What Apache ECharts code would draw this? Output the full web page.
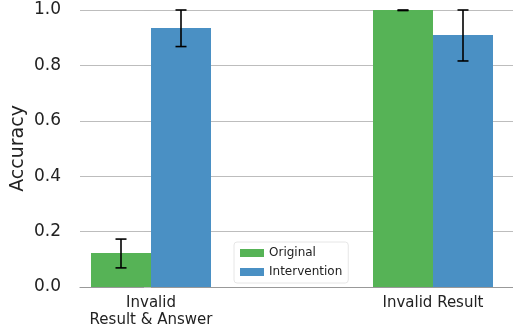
<!DOCTYPE html>
<html><head><meta charset="utf-8">
<script src="https://cdn.jsdelivr.net/npm/echarts@6/dist/echarts.min.js"></script>
<style>html,body{margin:0;padding:0;background:#fff}#c{width:513px;height:334px}</style>
</head><body><div id="c"></div>
<script>
const categories = ['Invalid\nResult & Answer', 'Invalid Result'];
const seriesNames = ['Original', 'Intervention'];
const original = [0.123, 1.0];
const originalLow = [0.069, 0.998];
const originalHigh = [0.173, 1.0];
const intervention = [0.935, 0.91];
const interventionLow = [0.868, 0.816];
const interventionHigh = [1.0, 1.0];
const yTicks = [0, 0.2, 0.4, 0.6, 0.8, 1.0];

const colors = ['#56b356', '#4a90c4'];
const barW = 60;
const font = 'DejaVu Sans';

function errSeries(vals, lo, hi, side) {
  return {
    type: 'custom',
    silent: true,
    z: 10,
    data: vals.map((v, i) => [i, lo[i], hi[i]]),
    renderItem: function (params, api) {
      const x = api.value(0);
      const p1 = api.coord([x, api.value(1)]);
      const p2 = api.coord([x, api.value(2)]);
      const cx = p1[0] + side * barW / 2;
      const cap = 5.5;
      const st = { stroke: '#000', lineWidth: 1.6 };
      return { type: 'group', children: [
        { type: 'line', shape: { x1: cx, y1: p1[1], x2: cx, y2: p2[1] }, style: st },
        { type: 'line', shape: { x1: cx - cap, y1: p1[1], x2: cx + cap, y2: p1[1] }, style: st },
        { type: 'line', shape: { x1: cx - cap, y1: p2[1], x2: cx + cap, y2: p2[1] }, style: st }
      ]};
    }
  };
}

const chart = echarts.init(document.getElementById('c'));
chart.setOption({
  animation: false,
  grid: { left: 80, right: 0, top: 10, bottom: 47, containLabel: false, outerBoundsMode: 'none' },
  legend: {
    data: seriesNames,
    orient: 'vertical',
    left: 234, top: 242,
    icon: 'rect', itemWidth: 24, itemHeight: 8, itemGap: 7,
    textStyle: { fontFamily: font, fontSize: 12, color: '#222' },
    borderColor: '#e6e6e6', borderWidth: 1, borderRadius: 3,
    padding: [5, 6, 5, 6], backgroundColor: '#fff'
  },
  xAxis: {
    type: 'value',
    min: -71 / 282, max: 1 + 80 / 282,
    axisLine: { show: true, lineStyle: { color: '#999', width: 1.2 } },
    axisTick: { show: false },
    splitLine: { show: false },
    axisLabel: {
      customValues: [0, 1],
      formatter: v => categories[Math.round(v)],
      fontFamily: font, fontSize: 15, color: '#222', margin: 8, lineHeight: 17
    }
  },
  yAxis: {
    type: 'value', min: 0, max: 1, interval: 0.2,
    name: 'Accuracy', nameLocation: 'middle', nameGap: 52, nameMoveOverlap: false,
    nameTextStyle: { fontFamily: font, fontSize: 19, color: '#222' },
    axisLine: { show: false },
    axisTick: { show: true, length: 7, lineStyle: { color: '#bbb' } },
    splitLine: { lineStyle: { color: '#bdbdbd', width: 1 } },
    axisLabel: { fontFamily: font, fontSize: 17, color: '#222', margin: 19,
      formatter: v => v.toFixed(1) }
  },
  series: [
    { name: seriesNames[0], type: 'bar', barWidth: barW, barGap: '0%',
      itemStyle: { color: colors[0] }, data: original.map((v, i) => [i, v]) },
    { name: seriesNames[1], type: 'bar', barWidth: barW, barGap: '0%',
      itemStyle: { color: colors[1] }, data: intervention.map((v, i) => [i, v]) },
    errSeries(original, originalLow, originalHigh, -1),
    errSeries(intervention, interventionLow, interventionHigh, 1)
  ]
});
</script></body></html>
